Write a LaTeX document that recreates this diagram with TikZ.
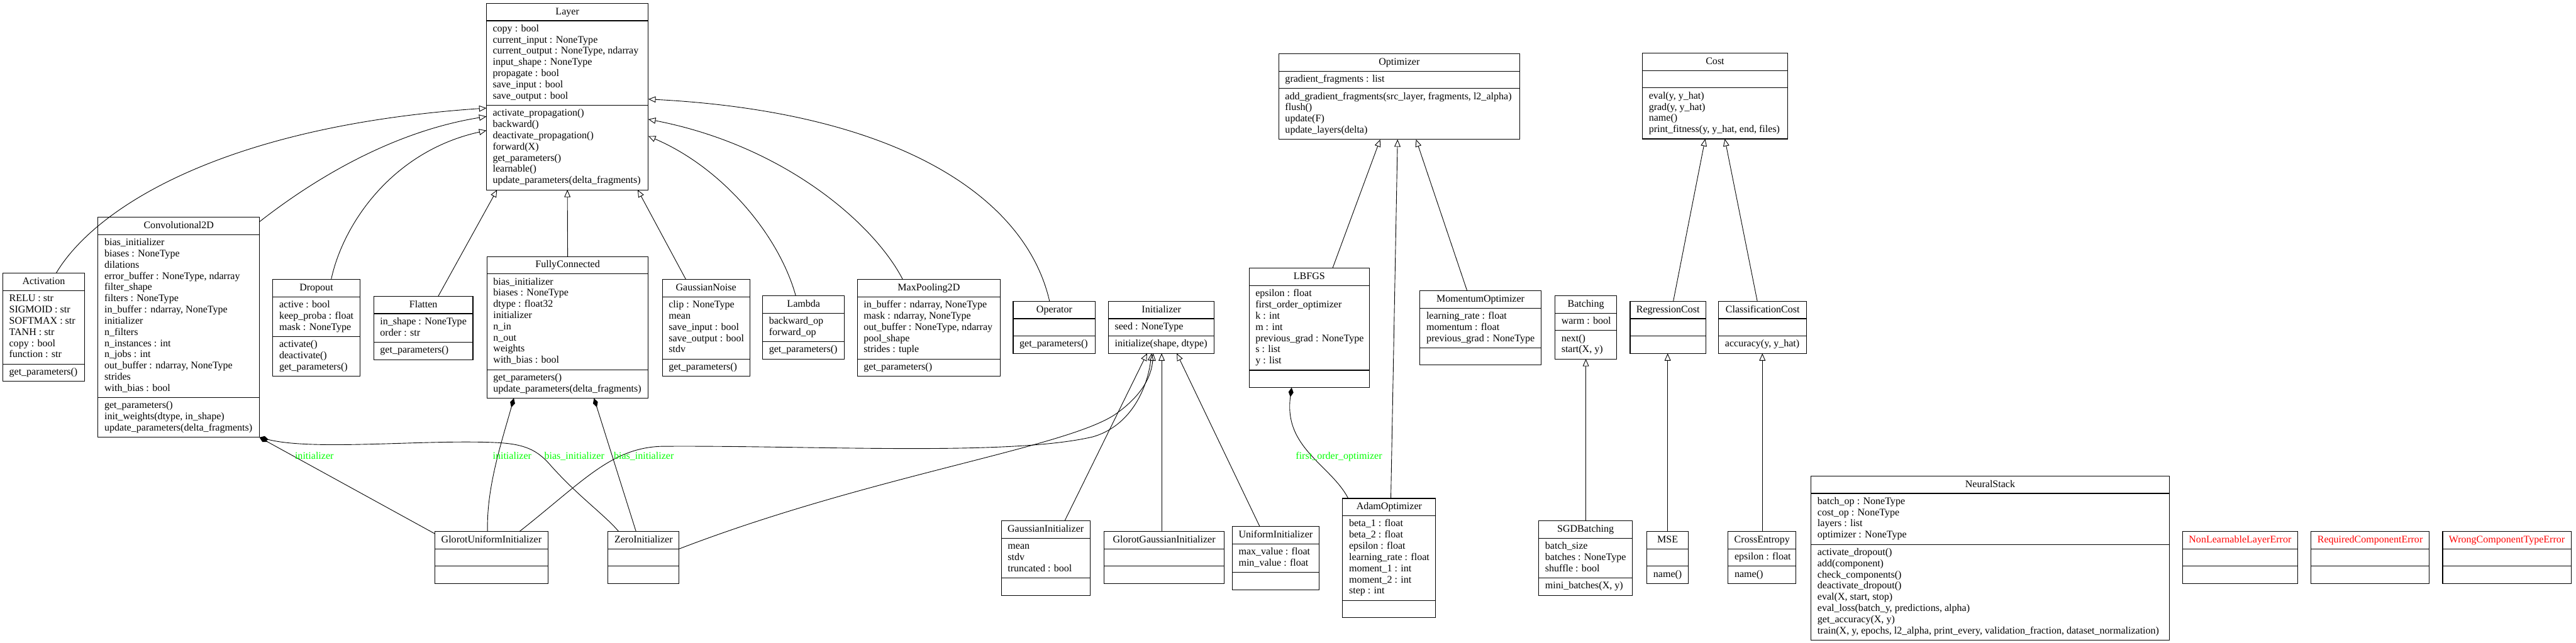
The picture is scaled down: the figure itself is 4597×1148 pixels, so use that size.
\documentclass[tikz,border=0pt]{standalone}
\usepackage{fontspec}
\setmainfont{Liberation Serif}
\usetikzlibrary{arrows.meta,calc}
\definecolor{lblgreen}{RGB}{0,255,0}
\definecolor{errred}{RGB}{255,0,0}
\tikzset{
  classbox/.style={draw=black, line width=0.6pt, inner sep=0pt, outer sep=0pt, anchor=north west},
  sepline/.style={draw=black, line width=0.6pt},
  titletext/.style={inner sep=0pt, anchor=base, font=\fontsize{9}{10}\selectfont},
  bodytext/.style={inner sep=0pt, anchor=north west, font=\fontsize{9}{10}\selectfont},
  gen/.style={draw, line width=0.5pt, -{Triangle[open, length=6.5pt, width=5.5pt]}},
  comp/.style={draw, line width=0.5pt, {Diamond[length=8.5pt, width=4.5pt]}-},
  elabel/.style={inner sep=0pt, anchor=base west, text=lblgreen, font=\fontsize{9}{10}\selectfont},
}
% #1 name, #2 left, #3 top, #4 width, #5 n attrs, #6 n methods, #7 title, #8 attrs, #9 methods
\newcommand{\umlbox}[9]{%
  \pgfmathsetmacro\hA{max(#5,1)*20+11}%
  \pgfmathsetmacro\hM{max(#6,1)*20+11}%
  \pgfmathsetmacro\hT{31+\hA+\hM}%
  \pgfmathsetmacro\yS{31+\hA}%
  \node[classbox, minimum width=#4*0.5pt, minimum height=\hT*0.5pt] (#1) at (#2,#3) {};
  \draw[sepline] ($(#1.north west)+(0,31)$) -- ($(#1.north east)+(0,31)$);
  \draw[sepline] ($(#1.north west)+(0,\yS)$) -- ($(#1.north east)+(0,\yS)$);
  \node[titletext] at ($(#1.north)+(0,20)$) {#7};
  \node[bodytext] at ($(#1.north west)+(11,36)$) {\begin{tabular}{@{}l@{}}#8\end{tabular}};
  \node[bodytext] at ($(#1.north west)+(11,\yS+5)$) {\begin{tabular}{@{}l@{}}#9\end{tabular}};
}
\begin{document}
\begin{tikzpicture}[x=0.5pt,y=-0.5pt]
\fill[white] (0,0) rectangle (4597,1148);
\useasboundingbox (0,0) rectangle (4597,1148);

\umlbox{Layer}{868}{6}{289}{7}{7}{Layer}{copy : bool\\current\_input : NoneType\\current\_output : NoneType, ndarray\\input\_shape : NoneType\\propagate : bool\\save\_input : bool\\save\_output : bool}{activate\_propagation()\\backward()\\deactivate\_propagation()\\forward(X)\\get\_parameters()\\learnable()\\update\_parameters(delta\_fragments)}

\umlbox{Activation}{5}{488}{146}{6}{1}{Activation}{RELU : str\\SIGMOID : str\\SOFTMAX : str\\TANH : str\\copy : bool\\function : str}{get\_parameters()}

\umlbox{Conv}{175}{388}{288}{14}{3}{Convolutional2D}{bias\_initializer\\biases : NoneType\\dilations\\error\_buffer : NoneType, ndarray\\filter\_shape\\filters : NoneType\\in\_buffer : ndarray, NoneType\\initializer\\n\_filters\\n\_instances : int\\n\_jobs : int\\out\_buffer : ndarray, NoneType\\strides\\with\_bias : bool}{get\_parameters()\\init\_weights(dtype, in\_shape)\\update\_parameters(delta\_fragments)}

\umlbox{Dropout}{487}{499}{155}{3}{3}{Dropout}{active : bool\\keep\_proba : float\\mask : NoneType}{activate()\\deactivate()\\get\_parameters()}

\umlbox{Flatten}{667}{529}{177}{2}{1}{Flatten}{in\_shape : NoneType\\order : str}{get\_parameters()}

\umlbox{FC}{869}{458}{288}{8}{2}{FullyConnected}{bias\_initializer\\biases : NoneType\\dtype : float32\\initializer\\n\_in\\n\_out\\weights\\with\_bias : bool}{get\_parameters()\\update\_parameters(delta\_fragments)}

\umlbox{GNoise}{1182}{499}{156}{5}{1}{GaussianNoise}{clip : NoneType\\mean\\save\_input : bool\\save\_output : bool\\stdv}{get\_parameters()}

\umlbox{Lambda}{1361}{528}{146}{2}{1}{Lambda}{backward\_op\\forward\_op}{get\_parameters()}

\umlbox{MaxPool}{1530}{499}{255}{5}{1}{MaxPooling2D}{in\_buffer : ndarray, NoneType\\mask : ndarray, NoneType\\out\_buffer : NoneType, ndarray\\pool\_shape\\strides : tuple}{get\_parameters()}

\umlbox{Operator}{1808}{538}{147}{0}{1}{Operator}{}{get\_parameters()}

\umlbox{Initializer}{1978}{538}{189}{1}{1}{Initializer}{seed : NoneType}{initialize(shape, dtype)}

\umlbox{Optimizer}{2282}{96}{430}{1}{4}{Optimizer}{gradient\_fragments : list}{add\_gradient\_fragments(src\_layer, fragments, l2\_alpha)\\flush()\\update(F)\\update\_layers(delta)}

\umlbox{Cost}{2931}{95}{259}{0}{4}{Cost}{}{eval(y, y\_hat)\\grad(y, y\_hat)\\name()\\print\_fitness(y, y\_hat, end, files)}

\umlbox{LBFGS}{2229}{479}{215}{7}{0}{LBFGS}{epsilon : float\\first\_order\_optimizer\\k : int\\m : int\\previous\_grad : NoneType\\s : list\\y : list}{}

\umlbox{Momentum}{2534}{519}{216}{3}{0}{MomentumOptimizer}{learning\_rate : float\\momentum : float\\previous\_grad : NoneType}{}

\umlbox{Batching}{2775}{528}{110}{1}{2}{Batching}{warm : bool}{next()\\start(X, y)}

\umlbox{RegCost}{2909}{538}{135}{0}{0}{RegressionCost}{}{}

\umlbox{ClsCost}{3067}{538}{157}{0}{1}{ClassificationCost}{}{accuracy(y, y\_hat)}

\umlbox{GlorotU}{776}{949}{202}{0}{0}{GlorotUniformInitializer}{}{}

\umlbox{Zero}{1085}{949}{127}{0}{0}{ZeroInitializer}{}{}

\umlbox{GaussInit}{1787}{930}{158}{3}{0}{GaussianInitializer}{mean\\stdv\\truncated : bool}{}

\umlbox{GlorotG}{1970}{949}{215}{0}{0}{GlorotGaussianInitializer}{}{}

\umlbox{UnifInit}{2199}{940}{155}{2}{0}{UniformInitializer}{max\_value : float\\min\_value : float}{}

\umlbox{Adam}{2396}{890}{166}{7}{0}{AdamOptimizer}{beta\_1 : float\\beta\_2 : float\\epsilon : float\\learning\_rate : float\\moment\_1 : int\\moment\_2 : int\\step : int}{}

\umlbox{SGD}{2746}{930}{167}{3}{1}{SGDBatching}{batch\_size\\batches : NoneType\\shuffle : bool}{mini\_batches(X, y)}

\umlbox{MSE}{2939}{949}{74}{0}{1}{MSE}{}{name()}

\umlbox{CrossEnt}{3084}{949}{121}{1}{1}{CrossEntropy}{epsilon : float}{name()}

\umlbox{NeuralStack}{3232}{850}{639}{4}{8}{NeuralStack}{batch\_op : NoneType\\cost\_op : NoneType\\layers : list\\optimizer : NoneType}{activate\_dropout()\\add(component)\\check\_components()\\deactivate\_dropout()\\eval(X, start, stop)\\eval\_loss(batch\_y, predictions, alpha)\\get\_accuracy(X, y)\\train(X, y, epochs, l2\_alpha, print\_every, validation\_fraction, dataset\_normalization)}

\umlbox{ErrA}{3895}{949}{205}{0}{0}{\textcolor{errred}{NonLearnableLayerError}}{}{}
\umlbox{ErrB}{4124}{949}{211}{0}{0}{\textcolor{errred}{RequiredComponentError}}{}{}
\umlbox{ErrC}{4359}{949}{229}{0}{0}{\textcolor{errred}{WrongComponentTypeError}}{}{}

% generalizations into Layer
\draw[gen] ($(Activation.north west)+(95,0)$) .. controls (170,370) and (400,225) .. ($(Layer.north west)+(0,187)$);
\draw[gen] ($(Conv.north east)+(0,8)$) .. controls (560,320) and (700,235) .. ($(Layer.north west)+(0,202)$);
\draw[gen] ($(Dropout.north west)+(104,0)$) .. controls (612,400) and (700,270) .. ($(Layer.north west)+(0,227)$);
\draw[gen] ($(Flatten.north west)+(115,0)$) -- ($(Layer.south west)+(19,0)$);
\draw[gen] (FC.north) -- (Layer.south);
\draw[gen] ($(GNoise.north west)+(42,0)$) -- ($(Layer.south west)+(270,0)$);
\draw[gen] ($(Lambda.north west)+(59,0)$) .. controls (1390,420) and (1290,300) .. ($(Layer.north east)+(0,237)$);
\draw[gen] ($(MaxPool.north west)+(81,0)$) .. controls (1560,400) and (1400,260) .. ($(Layer.north east)+(0,207)$);
\draw[gen] ($(Operator.north west)+(65,0)$) .. controls (1830,350) and (1600,200) .. ($(Layer.north east)+(0,171)$);

% generalizations into Initializer
\draw[gen] ($(GlorotU.north west)+(151,0)$) .. controls (1040,860) and (1090,800) .. (1180,797) .. controls (1450,795) and (1800,815) .. (1950,780) .. controls (2020,760) and (2048,690) .. ($(Initializer.south west)+(77,0)$);
\draw[gen] ($(Zero.north east)+(0,31)$) .. controls (1550,850) and (1900,800) .. (1990,740) .. controls (2040,705) and (2055,670) .. ($(Initializer.south west)+(80,0)$);
\draw[gen] ($(GaussInit.north west)+(113,0)$) -- ($(Initializer.south west)+(69,0)$);
\draw[gen] ($(GlorotG.north west)+(103,0)$) -- ($(Initializer.south west)+(95,0)$);
\draw[gen] ($(UnifInit.north west)+(49,0)$) -- ($(Initializer.south west)+(122,0)$);

% optimizers, batching, costs
\draw[gen] ($(LBFGS.north west)+(149,0)$) -- ($(Optimizer.south west)+(181,0)$);
\draw[gen] ($(Adam.north west)+(86,0)$) -- ($(Optimizer.south west)+(212,0)$);
\draw[gen] ($(Momentum.north west)+(84,0)$) -- ($(Optimizer.south west)+(245,0)$);
\draw[gen] ($(SGD.north west)+(84,0)$) -- ($(Batching.south west)+(55,0)$);
\draw[gen] ($(MSE.north west)+(37,0)$) -- ($(RegCost.south west)+(67,0)$);
\draw[gen] ($(CrossEnt.north west)+(61,0)$) -- ($(ClsCost.south west)+(78,0)$);
\draw[gen] ($(RegCost.north west)+(77,0)$) -- ($(Cost.south west)+(112,0)$);
\draw[gen] ($(ClsCost.north west)+(69,0)$) -- ($(Cost.south west)+(147,0)$);

% compositions
\draw[comp] (Conv.south east) -- ($(GlorotU.north west)+(0,4)$);
\draw[comp] (Conv.south east) .. controls (560,805) and (750,785) .. (880,790) .. controls (930,792) and (955,800) .. (980,828) .. controls (1030,885) and (1080,920) .. ($(Zero.north west)+(19,0)$);
\draw[comp] ($(FC.south west)+(48,0)$) .. controls (895,790) and (868,870) .. ($(GlorotU.north west)+(94,0)$);
\draw[comp] ($(FC.south west)+(191,0)$) -- ($(Zero.north west)+(50,0)$);
\draw[comp] ($(LBFGS.south west)+(76,0)$) .. controls (2290,800) and (2375,830) .. ($(Adam.north west)+(10,0)$);

\node[elabel] (l1) at (526,820) {initializer};
\node[elabel] (l2) at (879,820) {initializer};
\node[elabel] (l3) at (971,820) {bias\_initializer};
\node[elabel] (l4) at (1095,820) {bias\_initializer};
\node[elabel] (l5) at (2312,820) {first\_order\_optimizer};
\end{tikzpicture}
\end{document}
